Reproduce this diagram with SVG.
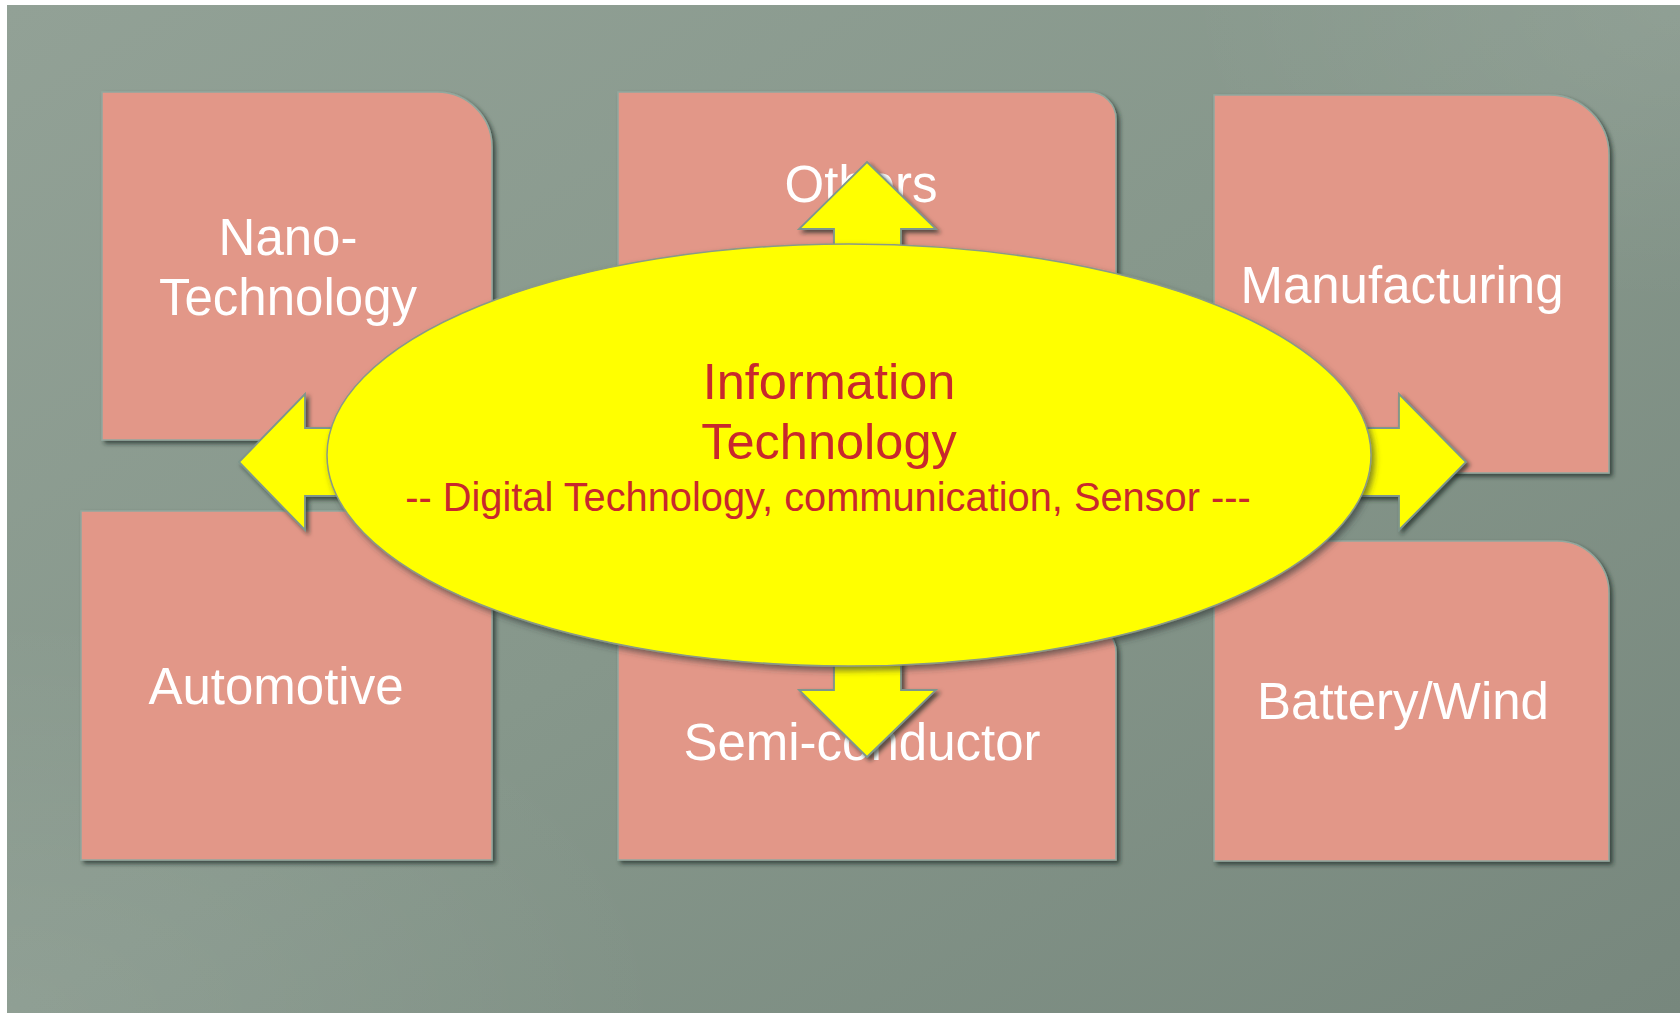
<svg xmlns="http://www.w3.org/2000/svg" width="1680" height="1013" viewBox="0 0 1680 1013">
<defs>
  <linearGradient id="bg" x1="0" y1="0" x2="1" y2="1">
    <stop offset="0" stop-color="#92A196"/>
    <stop offset="0.5" stop-color="#86978B"/>
    <stop offset="1" stop-color="#77877D"/>
  </linearGradient>
  <radialGradient id="glowBL" cx="0" cy="1" r="0.4">
    <stop offset="0" stop-color="#ffffff" stop-opacity="0.08"/>
    <stop offset="1" stop-color="#ffffff" stop-opacity="0"/>
  </radialGradient>
  <radialGradient id="glowTR" cx="1" cy="0" r="0.3">
    <stop offset="0" stop-color="#ffffff" stop-opacity="0.08"/>
    <stop offset="1" stop-color="#ffffff" stop-opacity="0"/>
  </radialGradient>
  <filter id="shadow" x="-10%" y="-10%" width="120%" height="120%">
    <feDropShadow dx="3" dy="3" stdDeviation="2" flood-color="#1e2a24" flood-opacity="0.7"/>
  </filter>
  <filter id="shadowE" x="-10%" y="-10%" width="120%" height="120%">
    <feDropShadow dx="3" dy="4" stdDeviation="3" flood-color="#2a3530" flood-opacity="0.6"/>
  </filter>
  <style>
    .box { fill: #E29788; stroke: #93A89E; stroke-width: 1.5; filter: url(#shadow); }
    .lbl { font-family: "Liberation Sans", Arial, sans-serif; font-size: 51px; fill: #FFFFFF; text-anchor: middle; }
    .arrow { fill: #FFFF00; stroke: #7E968C; stroke-width: 1.8; stroke-linejoin: miter; filter: url(#shadow); }
    .it { fill: #FFFF00; stroke: #8A9A86; stroke-width: 1.5; filter: url(#shadowE); }
    .itt { font-family: "Liberation Sans", Arial, sans-serif; fill: #C8282D; text-anchor: middle; }
  </style>
</defs>

<g id="background">
  <rect x="7" y="5" width="1673" height="1008" fill="url(#bg)"/>
  <rect x="7" y="5" width="1673" height="1008" fill="url(#glowBL)"/>
  <rect x="7" y="5" width="1673" height="1008" fill="url(#glowTR)"/>
</g>

<g id="node-nano">
  <path class="box" d="M102,92 H437 A55,55 0 0 1 492,147 V440 H102 Z"/>
  <text class="lbl" x="288" y="255">Nano-</text>
  <text class="lbl" x="288" y="315">Technology</text>
</g>

<g id="node-others">
  <path class="box" d="M618,92 H1089 A27,27 0 0 1 1116,119 V420 H618 Z"/>
  <text class="lbl" x="861" y="202">Others</text>
</g>

<g id="node-manufacturing">
  <path class="box" d="M1214,95 H1549 A60,60 0 0 1 1609,155 V473 H1214 Z"/>
  <text class="lbl" x="1402" y="303">Manufacturing</text>
</g>

<g id="node-automotive">
  <path class="box" d="M81,511 H439 A53,53 0 0 1 492,564 V860 H81 Z"/>
  <text class="lbl" x="276" y="704">Automotive</text>
</g>

<g id="node-semiconductor">
  <path class="box" d="M618,625 H1089 A27,27 0 0 1 1116,652 V860 H618 Z"/>
  <text class="lbl" x="862" y="760">Semi-conductor</text>
</g>

<g id="node-battery">
  <path class="box" d="M1214,541 H1557 A52,52 0 0 1 1609,593 V861 H1214 Z"/>
  <text class="lbl" x="1403" y="719">Battery/Wind</text>
</g>

<g id="connectors">
  <polygon class="arrow" points="867,162 936,229 901,229 901,320 834,320 834,229 799,229"/>
  <polygon class="arrow" points="867,757 936,690 901,690 901,600 834,600 834,690 799,690"/>
  <polygon class="arrow" points="239,462 305,394 305,428 420,428 420,496 305,496 305,530"/>
  <polygon class="arrow" points="1466,462 1399,394 1399,428 1280,428 1280,496 1399,496 1399,530"/>
</g>

<g id="node-it">
  <ellipse class="it" cx="849" cy="455" rx="522" ry="211"/>
  <text class="itt" x="829" y="399" font-size="50.5">Information</text>
  <text class="itt" x="829" y="459" font-size="50.5">Technology</text>
  <text class="itt" x="828" y="511" font-size="39.8">-- Digital Technology, communication, Sensor ---</text>
</g>
</svg>
